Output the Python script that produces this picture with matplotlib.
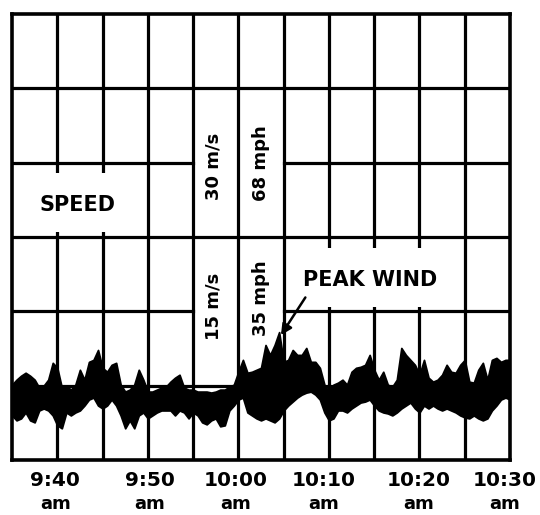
import numpy as np
import matplotlib
matplotlib.use("Agg")
import matplotlib.pyplot as plt
from matplotlib.patches import Rectangle
from matplotlib.transforms import blended_transform_factory, ScaledTranslation

# Wind speed record, sampled every 30 s (minutes after 9:00 am), in m/s
minutes = np.arange(35, 90.01, 0.5)

speed_upper = [
    7.6, 8.1, 8.5, 8.8, 8.5, 8.1, 7.3, 7.5, 8.1, 9.8,
    9.3, 7.3, 7.5, 7.1, 7.6, 9.1, 8.1, 9.9, 10.1, 11.1,
    9.3, 8.9, 9.6, 9.8, 7.6, 6.9, 7.1, 7.6, 9.1, 8.1,
    6.9, 6.9, 7.1, 7.3, 7.4, 7.9, 8.3, 8.6, 7.3, 7.1,
    7.1, 6.9, 6.9, 6.9, 6.8, 6.9, 7.1, 7.1, 7.4, 7.6,
    8.9, 10.1, 8.8, 8.9, 9.1, 9.3, 11.6, 10.6, 11.6, 12.9,
    9.9, 10.1, 11.1, 10.6, 10.6, 11.3, 9.9, 9.9, 9.3, 7.6,
    6.9, 7.6, 7.8, 8.1, 7.6, 8.9, 9.3, 9.4, 9.6, 10.6,
    9.1, 8.1, 8.9, 7.6, 7.4, 8.1, 11.3, 10.6, 10.1, 9.6,
    8.6, 10.1, 8.3, 7.9, 8.1, 8.6, 9.6, 8.9, 8.8, 9.6,
    10.1, 7.9, 7.8, 9.1, 9.8, 8.1, 10.1, 10.3, 9.9, 10.1,
    10.1,
]

speed_lower = [
    4.5, 4.0, 4.2, 4.8, 4.0, 3.8, 5.0, 5.2, 5.0, 4.5,
    3.5, 3.2, 4.8, 4.5, 4.8, 5.0, 5.5, 6.1, 6.3, 5.5,
    5.2, 5.5, 6.1, 5.5, 4.5, 3.2, 4.0, 3.2, 4.5, 4.8,
    4.2, 4.5, 4.8, 5.0, 5.0, 5.0, 4.5, 5.0, 4.8, 4.2,
    4.8, 4.5, 3.8, 3.6, 4.0, 4.2, 3.4, 3.5, 5.0, 5.5,
    6.1, 6.3, 4.8, 4.5, 4.2, 4.0, 4.2, 4.0, 3.8, 4.2,
    5.0, 5.5, 5.9, 6.3, 6.6, 6.8, 6.9, 6.6, 6.1, 4.8,
    4.0, 4.2, 5.0, 5.0, 4.8, 5.2, 5.5, 5.8, 5.9, 6.1,
    5.5, 5.0, 4.8, 4.7, 4.5, 4.8, 5.2, 5.5, 5.8, 5.2,
    4.8, 5.5, 5.2, 5.5, 5.2, 5.0, 5.2, 5.0, 4.8, 4.5,
    4.3, 4.2, 4.5, 4.2, 4.0, 4.2, 5.0, 5.5, 6.1, 6.3,
    6.1,
]

tick_minutes = [40, 50, 60, 70, 80, 90]
tick_times = ["9:40", "9:50", "10:00", "10:10", "10:20", "10:30"]
tick_suffix = "am"

x_lim = (35, 90)
y_lim = (0, 45)
x_grid = np.arange(35, 91, 5)
y_grid = np.arange(0, 45.1, 7.5)

fig = plt.figure(figsize=(5.4, 5.15), dpi=100)
ax = fig.add_axes([12 / 540, 55 / 515, 498 / 540, 446 / 515])
ax.set_xlim(*x_lim)
ax.set_ylim(*y_lim)

grid_kw = dict(color="black", linewidth=2.3, zorder=1, capstyle="projecting")
for x in x_grid[1:-1]:
    ax.vlines(x, *y_lim, **grid_kw)
for y in y_grid[1:-1]:
    if y in (15.0, 30.0):
        # leave the unit-label column open
        ax.hlines([y, y], [35, 65], [55, 90], **grid_kw)
    else:
        ax.hlines(y, *x_lim, **grid_kw)

# white panels behind the word labels
ax.add_patch(Rectangle((36.0, 23.0), 12.5, 6.0, facecolor="white",
                       edgecolor="none", zorder=1.5))
ax.add_patch(Rectangle((66.5, 15.4), 15.5, 6.0, facecolor="white",
                       edgecolor="none", zorder=1.5))

# the speed trace
ax.fill_between(minutes, speed_lower, speed_upper, facecolor="black",
                edgecolor="black", linewidth=1.3, zorder=3)

bold = dict(fontweight="bold", family="DejaVu Sans", color="black")
ax.text(42.2, 25.7, "SPEED", ha="center", va="center", fontsize=15,
        zorder=4, **bold)
ax.text(74.5, 18.2, "PEAK WIND", ha="center", va="center", fontsize=15,
        zorder=4, **bold)

for x, y, s in [(57.3, 29.6, "30 m/s"), (62.5, 30.0, "68 mph"),
                (57.3, 15.5, "15 m/s"), (62.5, 16.3, "35 mph")]:
    ax.text(x, y, s, rotation=90, ha="center", va="center", fontsize=13,
            zorder=4, **bold)

i_peak = int(np.argmax(speed_upper))
ax.annotate("", xy=(minutes[i_peak] + 0.2, speed_upper[i_peak] - 0.3),
            xytext=(67.4, 16.4),
            arrowprops=dict(arrowstyle="-|>", color="black", lw=1.8,
                            mutation_scale=16, shrinkA=0, shrinkB=0),
            zorder=5)

ax.set_xticks(tick_minutes)
ax.set_xticklabels(tick_times, fontsize=14.5, **bold)
ax.tick_params(axis="x", length=0, pad=8)
ax.set_yticks([])

# small horizontal nudges so the outer labels stay inside the figure
label_shift_px = [-2, 2, -3, -5, -1, -5]
trans = blended_transform_factory(ax.transData, ax.transAxes)
for lbl, x, dx in zip(ax.get_xticklabels(), tick_minutes, label_shift_px):
    off = ScaledTranslation(dx / 100, 0, fig.dpi_scale_trans)
    lbl.set_transform(lbl.get_transform() + off)
    ax.text(x, -0.099, tick_suffix, transform=trans + off, ha="center",
            va="center", fontsize=13, clip_on=False, **bold)

for sp in ax.spines.values():
    sp.set_linewidth(2.6)
    sp.set_color("black")
    sp.set_zorder(6)

fig.savefig("out.png", dpi=100)
